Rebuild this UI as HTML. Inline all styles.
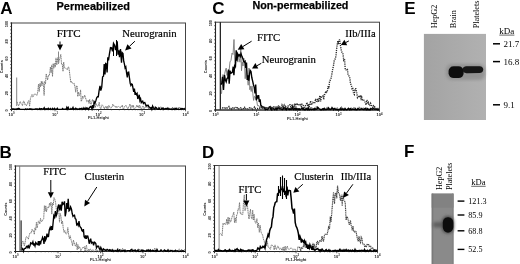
<!DOCTYPE html>
<html><head><meta charset="utf-8"><style>
html,body{margin:0;padding:0;background:#fff;width:520px;height:264px;overflow:hidden}
svg{display:block;will-change:transform;filter:blur(0.3px)}
text{font-family:"Liberation Sans", sans-serif}
</style></head><body>
<svg width="520" height="264" viewBox="0 0 520 264">
<rect x="11.5" y="23.0" width="174.0" height="86.5" fill="none" stroke="#444" stroke-width="1"/>
<line x1="10.0" y1="109.5" x2="185.5" y2="109.5" stroke="#222" stroke-width="1.1"/>
<line x1="11.5" y1="22.5" x2="11.5" y2="111.0" stroke="#222" stroke-width="1.1"/>
<line x1="10.2" y1="109.5" x2="11.5" y2="109.5" stroke="#333" stroke-width="0.8"/>
<line x1="10.2" y1="106.0" x2="11.5" y2="106.0" stroke="#333" stroke-width="0.8"/>
<line x1="10.2" y1="102.6" x2="11.5" y2="102.6" stroke="#333" stroke-width="0.8"/>
<line x1="10.2" y1="99.1" x2="11.5" y2="99.1" stroke="#333" stroke-width="0.8"/>
<line x1="10.2" y1="95.7" x2="11.5" y2="95.7" stroke="#333" stroke-width="0.8"/>
<line x1="10.2" y1="92.2" x2="11.5" y2="92.2" stroke="#333" stroke-width="0.8"/>
<line x1="10.2" y1="88.7" x2="11.5" y2="88.7" stroke="#333" stroke-width="0.8"/>
<line x1="10.2" y1="85.3" x2="11.5" y2="85.3" stroke="#333" stroke-width="0.8"/>
<line x1="10.2" y1="81.8" x2="11.5" y2="81.8" stroke="#333" stroke-width="0.8"/>
<line x1="10.2" y1="78.4" x2="11.5" y2="78.4" stroke="#333" stroke-width="0.8"/>
<line x1="10.2" y1="74.9" x2="11.5" y2="74.9" stroke="#333" stroke-width="0.8"/>
<line x1="10.2" y1="71.4" x2="11.5" y2="71.4" stroke="#333" stroke-width="0.8"/>
<line x1="10.2" y1="68.0" x2="11.5" y2="68.0" stroke="#333" stroke-width="0.8"/>
<line x1="10.2" y1="64.5" x2="11.5" y2="64.5" stroke="#333" stroke-width="0.8"/>
<line x1="10.2" y1="61.1" x2="11.5" y2="61.1" stroke="#333" stroke-width="0.8"/>
<line x1="10.2" y1="57.6" x2="11.5" y2="57.6" stroke="#333" stroke-width="0.8"/>
<line x1="10.2" y1="54.1" x2="11.5" y2="54.1" stroke="#333" stroke-width="0.8"/>
<line x1="10.2" y1="50.7" x2="11.5" y2="50.7" stroke="#333" stroke-width="0.8"/>
<line x1="10.2" y1="47.2" x2="11.5" y2="47.2" stroke="#333" stroke-width="0.8"/>
<line x1="10.2" y1="43.8" x2="11.5" y2="43.8" stroke="#333" stroke-width="0.8"/>
<line x1="10.2" y1="40.3" x2="11.5" y2="40.3" stroke="#333" stroke-width="0.8"/>
<line x1="10.2" y1="36.8" x2="11.5" y2="36.8" stroke="#333" stroke-width="0.8"/>
<line x1="10.2" y1="33.4" x2="11.5" y2="33.4" stroke="#333" stroke-width="0.8"/>
<line x1="10.2" y1="29.9" x2="11.5" y2="29.9" stroke="#333" stroke-width="0.8"/>
<line x1="10.2" y1="26.5" x2="11.5" y2="26.5" stroke="#333" stroke-width="0.8"/>
<line x1="10.2" y1="23.0" x2="11.5" y2="23.0" stroke="#333" stroke-width="0.8"/>
<text x="0" y="0" transform="translate(8.1 110.5) rotate(-90)" font-size="3.8" font-weight="bold" text-anchor="middle" fill="#222">0</text>
<text x="0" y="0" transform="translate(8.1 93.2) rotate(-90)" font-size="3.8" font-weight="bold" text-anchor="middle" fill="#222">20</text>
<text x="0" y="0" transform="translate(8.1 75.9) rotate(-90)" font-size="3.8" font-weight="bold" text-anchor="middle" fill="#222">40</text>
<text x="0" y="0" transform="translate(8.1 58.6) rotate(-90)" font-size="3.8" font-weight="bold" text-anchor="middle" fill="#222">60</text>
<text x="0" y="0" transform="translate(8.1 41.3) rotate(-90)" font-size="3.8" font-weight="bold" text-anchor="middle" fill="#222">80</text>
<text x="0" y="0" transform="translate(8.1 24.0) rotate(-90)" font-size="3.8" font-weight="bold" text-anchor="middle" fill="#222">100</text>
<line x1="11.5" y1="109.5" x2="11.5" y2="111.3" stroke="#333" stroke-width="0.8"/>
<line x1="24.6" y1="109.5" x2="24.6" y2="110.5" stroke="#555" stroke-width="0.5"/>
<line x1="32.3" y1="109.5" x2="32.3" y2="110.5" stroke="#555" stroke-width="0.5"/>
<line x1="37.7" y1="109.5" x2="37.7" y2="110.5" stroke="#555" stroke-width="0.5"/>
<line x1="41.9" y1="109.5" x2="41.9" y2="110.5" stroke="#555" stroke-width="0.5"/>
<line x1="45.3" y1="109.5" x2="45.3" y2="110.5" stroke="#555" stroke-width="0.5"/>
<line x1="48.3" y1="109.5" x2="48.3" y2="110.5" stroke="#555" stroke-width="0.5"/>
<line x1="50.8" y1="109.5" x2="50.8" y2="110.5" stroke="#555" stroke-width="0.5"/>
<line x1="53.0" y1="109.5" x2="53.0" y2="110.5" stroke="#555" stroke-width="0.5"/>
<text x="11.5" y="115.9" font-size="4" font-weight="bold" text-anchor="middle" fill="#222">10<tspan font-size="2.8" dy="-1.5">0</tspan></text>
<line x1="55.0" y1="109.5" x2="55.0" y2="111.3" stroke="#333" stroke-width="0.8"/>
<line x1="68.1" y1="109.5" x2="68.1" y2="110.5" stroke="#555" stroke-width="0.5"/>
<line x1="75.8" y1="109.5" x2="75.8" y2="110.5" stroke="#555" stroke-width="0.5"/>
<line x1="81.2" y1="109.5" x2="81.2" y2="110.5" stroke="#555" stroke-width="0.5"/>
<line x1="85.4" y1="109.5" x2="85.4" y2="110.5" stroke="#555" stroke-width="0.5"/>
<line x1="88.8" y1="109.5" x2="88.8" y2="110.5" stroke="#555" stroke-width="0.5"/>
<line x1="91.8" y1="109.5" x2="91.8" y2="110.5" stroke="#555" stroke-width="0.5"/>
<line x1="94.3" y1="109.5" x2="94.3" y2="110.5" stroke="#555" stroke-width="0.5"/>
<line x1="96.5" y1="109.5" x2="96.5" y2="110.5" stroke="#555" stroke-width="0.5"/>
<text x="55.0" y="115.9" font-size="4" font-weight="bold" text-anchor="middle" fill="#222">10<tspan font-size="2.8" dy="-1.5">1</tspan></text>
<line x1="98.5" y1="109.5" x2="98.5" y2="111.3" stroke="#333" stroke-width="0.8"/>
<line x1="111.6" y1="109.5" x2="111.6" y2="110.5" stroke="#555" stroke-width="0.5"/>
<line x1="119.3" y1="109.5" x2="119.3" y2="110.5" stroke="#555" stroke-width="0.5"/>
<line x1="124.7" y1="109.5" x2="124.7" y2="110.5" stroke="#555" stroke-width="0.5"/>
<line x1="128.9" y1="109.5" x2="128.9" y2="110.5" stroke="#555" stroke-width="0.5"/>
<line x1="132.3" y1="109.5" x2="132.3" y2="110.5" stroke="#555" stroke-width="0.5"/>
<line x1="135.3" y1="109.5" x2="135.3" y2="110.5" stroke="#555" stroke-width="0.5"/>
<line x1="137.8" y1="109.5" x2="137.8" y2="110.5" stroke="#555" stroke-width="0.5"/>
<line x1="140.0" y1="109.5" x2="140.0" y2="110.5" stroke="#555" stroke-width="0.5"/>
<text x="98.5" y="115.9" font-size="4" font-weight="bold" text-anchor="middle" fill="#222">10<tspan font-size="2.8" dy="-1.5">2</tspan></text>
<line x1="142.0" y1="109.5" x2="142.0" y2="111.3" stroke="#333" stroke-width="0.8"/>
<line x1="155.1" y1="109.5" x2="155.1" y2="110.5" stroke="#555" stroke-width="0.5"/>
<line x1="162.8" y1="109.5" x2="162.8" y2="110.5" stroke="#555" stroke-width="0.5"/>
<line x1="168.2" y1="109.5" x2="168.2" y2="110.5" stroke="#555" stroke-width="0.5"/>
<line x1="172.4" y1="109.5" x2="172.4" y2="110.5" stroke="#555" stroke-width="0.5"/>
<line x1="175.8" y1="109.5" x2="175.8" y2="110.5" stroke="#555" stroke-width="0.5"/>
<line x1="178.8" y1="109.5" x2="178.8" y2="110.5" stroke="#555" stroke-width="0.5"/>
<line x1="181.3" y1="109.5" x2="181.3" y2="110.5" stroke="#555" stroke-width="0.5"/>
<line x1="183.5" y1="109.5" x2="183.5" y2="110.5" stroke="#555" stroke-width="0.5"/>
<text x="142.0" y="115.9" font-size="4" font-weight="bold" text-anchor="middle" fill="#222">10<tspan font-size="2.8" dy="-1.5">3</tspan></text>
<line x1="185.5" y1="109.5" x2="185.5" y2="111.3" stroke="#333" stroke-width="0.8"/>
<text x="185.5" y="115.9" font-size="4" font-weight="bold" text-anchor="middle" fill="#222">10<tspan font-size="2.8" dy="-1.5">4</tspan></text>
<text x="98.5" y="119.4" font-size="4" font-weight="bold" text-anchor="middle" fill="#222">FL1-Height</text>
<text x="0" y="0" transform="translate(3.2 66.8) rotate(-90)" font-size="3.8" font-weight="bold" text-anchor="middle" fill="#222">Counts</text>
<line x1="16.7" y1="77.5" x2="16.7" y2="106.0" stroke="#777" stroke-width="0.9"/>
<path d="M17.0 101.8 L17.9 104.7 L18.7 105.8 L19.6 103.1 L20.3 101.5 L21.1 103.7 L21.8 104.6 L22.5 105.7 L23.3 101.3 L24.0 101.0 L24.8 104.6 L25.6 103.9 L26.4 105.7 L27.2 104.4 L28.0 101.8 L28.8 100.5 L29.6 106.3 L30.4 98.6 L31.2 96.4 L32.0 94.5 L32.7 97.0 L33.5 96.3 L34.2 94.1 L34.9 94.1 L35.7 94.3 L36.4 94.9 L37.1 95.3 L37.8 91.6 L38.5 84.1 L39.2 91.6 L39.9 83.4 L40.6 86.8 L41.3 81.2 L42.0 85.7 L42.7 81.7 L43.4 84.4 L44.1 95.4 L44.8 81.3 L45.5 83.8 L46.2 73.9 L46.9 77.1 L47.6 80.0 L48.3 75.4 L49.0 76.0 L49.7 73.5 L50.4 67.0 L51.1 72.8 L51.8 64.9 L52.5 76.5 L53.2 63.5 L53.9 68.2 L54.6 63.5 L55.3 67.1 L56.0 57.9 L56.8 64.9 L57.7 57.7 L58.5 63.8 L59.2 60.4 L60.0 57.8 L60.8 54.4 L61.5 64.0 L62.2 63.9 L63.0 71.3 L63.7 62.1 L64.4 67.7 L65.2 68.4 L65.9 68.2 L66.6 68.8 L67.3 69.7 L68.0 67.4 L68.7 66.9 L69.4 71.2 L70.1 77.0 L70.8 82.4 L71.5 81.4 L72.2 83.0 L72.9 83.2 L73.6 84.2 L74.3 83.5 L75.0 87.2 L75.7 92.2 L76.4 85.9 L77.1 86.1 L77.8 96.5 L78.5 92.1 L79.2 95.1 L79.9 95.4 L80.6 89.9 L81.2 101.4 L81.9 100.0 L82.6 96.0 L83.3 98.3 L84.0 97.2 L84.7 95.0 L85.4 97.6 L86.1 99.4 L86.8 101.8 L87.6 101.2 L88.3 100.1 L89.0 103.6 L89.7 99.3 L90.4 103.2 L91.1 104.4 L91.8 101.9 L92.5 99.4 L93.2 101.8 L93.9 104.4 L94.6 105.4 L95.3 107.6 L96.1 103.5 L96.9 105.3 L97.7 106.5 L98.4 105.4 L99.2 102.3 L100.0 107.2 L100.7 108.8 L101.4 107.5 L102.1 104.8 L102.9 105.6 L103.6 106.5 L104.3 108.8 L105.0 107.1 L105.7 106.4 L106.4 108.5 L107.1 106.2 L107.9 108.8 L108.6 105.5 L109.3 105.8 L110.0 107.5 L110.7 108.4 L111.4 107.4 L112.1 107.0 L112.8 104.2 L113.4 105.6 L114.1 105.8 L114.8 105.9 L115.5 107.4 L116.2 106.2 L116.9 107.7 L117.6 106.8 L118.3 106.3 L119.0 106.9 L119.7 107.3 L120.3 107.9 L121.0 106.2 L121.7 106.5 L122.4 105.1 L123.1 108.8 L123.8 108.7 L124.5 106.6 L125.2 106.3 L125.9 105.4 L126.6 107.1 L127.2 107.2 L127.9 108.8 L128.6 107.3 L129.3 106.0 L130.0 104.0 L130.7 108.7 L131.4 107.3 L132.1 105.2 L132.8 107.3 L133.4 105.3 L134.1 108.8 L134.8 108.5 L135.5 107.9 L136.2 107.1 L136.9 105.0 L137.6 107.2 L138.3 105.7 L139.0 108.1 L139.7 105.2 L140.3 106.6 L141.0 108.8 L141.7 108.8 L142.4 106.4 L143.1 106.1 L143.8 108.6 L144.5 108.5 L145.2 106.8 L145.9 107.1 L146.6 107.2 L147.2 106.8 L147.9 107.3 L148.6 108.8 L149.3 108.6 L150.0 108.8 L150.7 107.9 L151.4 107.9 L152.1 107.2 L152.7 107.9 L153.4 107.0 L154.1 106.6 L154.8 108.6 L155.5 108.8 L156.2 108.8 L156.9 108.8 L157.5 108.3 L158.2 107.6 L158.9 108.2 L159.6 107.8 L160.3 107.3 L161.0 106.9 L161.7 107.0 L162.4 108.2 L163.0 108.3 L163.7 107.8 L164.4 108.8 L165.1 108.3 L165.8 108.6 L166.5 108.8 L167.2 107.7 L167.8 106.9 L168.5 108.8 L169.2 107.8 L169.9 108.8 L170.6 108.5 L171.3 108.8 L172.0 108.8 L172.6 107.0 L173.3 108.8 L174.0 107.9 L174.7 107.9 L175.4 108.1 L176.1 108.8 L176.8 108.8 L177.5 108.8 L178.1 107.5 L178.8 108.1 L179.5 107.1 L180.2 108.4 L180.9 108.8 L181.6 108.1 L182.3 108.6 L182.9 108.6 L183.6 108.8 L184.3 108.1 L185.0 108.2" fill="none" stroke="#777" stroke-width="1.0" stroke-dasharray="1.3 0.5"/>
<path d="M12.0 108.5 L12.7 109.2 L13.4 109.0 L14.1 108.9 L14.7 109.4 L15.4 109.1 L16.1 109.0 L16.8 109.4 L17.5 108.9 L18.2 108.5 L18.9 108.5 L19.5 108.8 L20.2 109.4 L20.9 109.4 L21.6 109.4 L22.3 109.4 L23.0 109.4 L23.7 109.4 L24.3 109.4 L25.0 109.4 L25.7 108.8 L26.4 109.4 L27.1 109.1 L27.8 109.0 L28.5 109.4 L29.1 109.4 L29.8 108.8 L30.5 109.0 L31.2 109.4 L31.9 109.0 L32.6 109.4 L33.3 109.4 L33.9 109.3 L34.6 109.4 L35.3 108.8 L36.0 108.8 L36.7 109.0 L37.4 108.9 L38.1 109.4 L38.7 109.4 L39.4 108.6 L40.1 109.4 L40.8 108.6 L41.5 108.7 L42.2 108.9 L42.9 109.1 L43.5 108.8 L44.2 107.7 L44.9 109.4 L45.6 108.9 L46.3 108.7 L47.0 109.4 L47.7 108.7 L48.3 108.3 L49.0 109.3 L49.7 109.3 L50.4 108.6 L51.1 109.4 L51.8 109.3 L52.5 108.4 L53.1 109.4 L53.8 109.2 L54.5 108.4 L55.2 109.3 L55.9 109.1 L56.6 109.4 L57.3 108.3 L57.9 109.4 L58.6 109.4 L59.3 109.4 L60.0 109.4 L60.7 109.4 L61.4 109.4 L62.1 109.1 L62.7 108.5 L63.4 109.4 L64.1 109.4 L64.8 109.2 L65.5 109.1 L66.2 109.4 L66.8 107.4 L67.5 109.1 L68.2 107.4 L68.9 109.1 L69.6 109.4 L70.3 109.4 L70.9 108.6 L71.6 109.2 L72.3 108.8 L73.0 107.4 L73.7 109.4 L74.4 108.9 L75.1 108.9 L75.7 108.2 L76.4 108.8 L77.1 108.9 L77.8 109.4 L78.5 109.0 L79.2 109.4 L79.8 108.5 L80.5 108.6 L81.2 108.8 L81.9 108.2 L82.6 109.4 L83.3 109.2 L83.9 107.8 L84.6 108.8 L85.3 109.4 L86.0 107.7 L86.8 108.6 L87.6 108.1 L88.4 109.4 L89.2 108.2 L90.0 107.1 L91.0 106.4 L92.0 108.9 L92.8 105.1 L93.5 108.3 L94.2 101.8 L95.0 103.1 L95.8 100.9 L96.7 97.8 L97.5 96.7 L98.3 96.7 L99.1 90.7 L100.0 85.8 L100.8 90.6 L101.7 87.4 L102.6 76.8 L103.5 76.2 L104.2 64.0 L105.0 74.4 L105.7 63.6 L106.4 64.1 L107.1 72.4 L107.8 57.3 L108.5 60.3 L109.5 53.4 L110.5 47.6 L111.5 47.8 L112.5 51.4 L113.5 43.3 L114.5 45.1 L115.5 50.2 L116.4 45.5 L117.2 41.4 L118.0 54.7 L118.8 50.2 L119.5 57.2 L120.5 49.0 L121.5 62.6 L122.2 52.6 L123.0 53.5 L123.7 61.2 L124.4 63.8 L125.1 68.0 L125.8 66.9 L126.6 73.1 L127.3 77.4 L128.0 72.4 L128.7 72.2 L129.4 77.5 L130.2 83.4 L130.9 85.4 L131.6 84.0 L132.3 84.4 L133.0 88.2 L133.7 91.9 L134.4 88.6 L135.1 94.8 L135.7 93.2 L136.4 94.5 L137.1 93.4 L137.8 99.0 L138.5 97.2 L139.2 94.8 L139.9 100.5 L140.6 98.8 L141.3 102.6 L142.0 101.7 L142.7 101.1 L143.4 103.4 L144.1 102.7 L144.8 102.6 L145.5 104.4 L146.2 106.0 L146.8 105.3 L147.5 105.5 L148.2 105.3 L148.9 107.1 L149.6 107.2 L150.3 108.1 L151.1 107.7 L151.8 109.4 L152.6 106.1 L153.3 107.8 L154.0 108.6 L154.8 109.1 L155.5 107.3 L156.3 107.8 L157.0 108.9 L157.7 109.4 L158.4 109.4 L159.0 108.0 L159.7 109.0 L160.4 109.4 L161.1 109.0 L161.8 108.3 L162.5 108.5 L163.1 108.2 L163.8 109.4 L164.5 108.8 L165.2 108.7 L165.9 108.5 L166.6 108.9 L167.2 108.5 L167.9 108.4 L168.6 109.0 L169.3 108.9 L170.0 109.3 L170.7 109.1 L171.3 109.4 L172.0 109.0 L172.7 109.2 L173.4 109.2 L174.1 108.6 L174.8 109.4 L175.4 108.8 L176.1 108.2 L176.8 109.4 L177.5 109.4 L178.2 108.8 L178.9 109.4 L179.5 109.4 L180.2 109.4 L180.9 108.5 L181.6 109.2 L182.3 108.6 L183.0 108.8 L183.6 108.9 L184.3 108.7 L185.0 109.3" fill="none" stroke="#000" stroke-width="1.35"/>
<line x1="116.5" y1="40.0" x2="116.5" y2="56.0" stroke="#000" stroke-width="1.0"/>
<line x1="113.5" y1="44.5" x2="113.5" y2="56.0" stroke="#000" stroke-width="1.0"/>
<line x1="58.5" y1="51.5" x2="58.5" y2="62" stroke="#888" stroke-width="1.0"/>
<text x="56.7" y="36.6" style='font-family:"Liberation Serif", serif;font-size:11.00px;font-weight:normal' text-anchor="start" fill="#000" stroke="#000" stroke-width="0.2">FITC</text>
<line x1="60.0" y1="41.5" x2="60.0" y2="44.6" stroke="#000" stroke-width="1.0"/><polygon points="60.0,50.6 57.0,44.6 63.0,44.6" fill="#000"/>
<text x="122.3" y="36.5" style='font-family:"Liberation Serif", serif;font-size:10.75px;font-weight:normal' text-anchor="start" fill="#000" stroke="#000" stroke-width="0.2">Neurogranin</text>
<line x1="134.9" y1="41.2" x2="129.4" y2="46.4" stroke="#000" stroke-width="1.0"/><polygon points="125.1,50.6 127.4,44.3 131.5,48.6" fill="#000"/>
<text x="0.3" y="13.5" style='font-family:"Liberation Sans", sans-serif;font-size:17.00px;font-weight:bold' text-anchor="start" fill="#000" >A</text>
<text x="56.6" y="9.8" style='font-family:"Liberation Sans", sans-serif;font-size:10.90px;font-weight:bold' text-anchor="start" fill="#000" stroke="#000" stroke-width="0.25">Permeabilized</text>
<rect x="15.5" y="166.0" width="170.0" height="85.5" fill="none" stroke="#444" stroke-width="1"/>
<line x1="14.0" y1="251.5" x2="185.5" y2="251.5" stroke="#222" stroke-width="1.1"/>
<line x1="15.5" y1="165.5" x2="15.5" y2="253.0" stroke="#222" stroke-width="1.1"/>
<line x1="14.2" y1="251.5" x2="15.5" y2="251.5" stroke="#333" stroke-width="0.8"/>
<line x1="14.2" y1="248.1" x2="15.5" y2="248.1" stroke="#333" stroke-width="0.8"/>
<line x1="14.2" y1="244.7" x2="15.5" y2="244.7" stroke="#333" stroke-width="0.8"/>
<line x1="14.2" y1="241.2" x2="15.5" y2="241.2" stroke="#333" stroke-width="0.8"/>
<line x1="14.2" y1="237.8" x2="15.5" y2="237.8" stroke="#333" stroke-width="0.8"/>
<line x1="14.2" y1="234.4" x2="15.5" y2="234.4" stroke="#333" stroke-width="0.8"/>
<line x1="14.2" y1="231.0" x2="15.5" y2="231.0" stroke="#333" stroke-width="0.8"/>
<line x1="14.2" y1="227.6" x2="15.5" y2="227.6" stroke="#333" stroke-width="0.8"/>
<line x1="14.2" y1="224.1" x2="15.5" y2="224.1" stroke="#333" stroke-width="0.8"/>
<line x1="14.2" y1="220.7" x2="15.5" y2="220.7" stroke="#333" stroke-width="0.8"/>
<line x1="14.2" y1="217.3" x2="15.5" y2="217.3" stroke="#333" stroke-width="0.8"/>
<line x1="14.2" y1="213.9" x2="15.5" y2="213.9" stroke="#333" stroke-width="0.8"/>
<line x1="14.2" y1="210.5" x2="15.5" y2="210.5" stroke="#333" stroke-width="0.8"/>
<line x1="14.2" y1="207.0" x2="15.5" y2="207.0" stroke="#333" stroke-width="0.8"/>
<line x1="14.2" y1="203.6" x2="15.5" y2="203.6" stroke="#333" stroke-width="0.8"/>
<line x1="14.2" y1="200.2" x2="15.5" y2="200.2" stroke="#333" stroke-width="0.8"/>
<line x1="14.2" y1="196.8" x2="15.5" y2="196.8" stroke="#333" stroke-width="0.8"/>
<line x1="14.2" y1="193.4" x2="15.5" y2="193.4" stroke="#333" stroke-width="0.8"/>
<line x1="14.2" y1="189.9" x2="15.5" y2="189.9" stroke="#333" stroke-width="0.8"/>
<line x1="14.2" y1="186.5" x2="15.5" y2="186.5" stroke="#333" stroke-width="0.8"/>
<line x1="14.2" y1="183.1" x2="15.5" y2="183.1" stroke="#333" stroke-width="0.8"/>
<line x1="14.2" y1="179.7" x2="15.5" y2="179.7" stroke="#333" stroke-width="0.8"/>
<line x1="14.2" y1="176.3" x2="15.5" y2="176.3" stroke="#333" stroke-width="0.8"/>
<line x1="14.2" y1="172.8" x2="15.5" y2="172.8" stroke="#333" stroke-width="0.8"/>
<line x1="14.2" y1="169.4" x2="15.5" y2="169.4" stroke="#333" stroke-width="0.8"/>
<line x1="14.2" y1="166.0" x2="15.5" y2="166.0" stroke="#333" stroke-width="0.8"/>
<text x="0" y="0" transform="translate(12.1 252.5) rotate(-90)" font-size="3.8" font-weight="bold" text-anchor="middle" fill="#222">0</text>
<text x="0" y="0" transform="translate(12.1 235.4) rotate(-90)" font-size="3.8" font-weight="bold" text-anchor="middle" fill="#222">20</text>
<text x="0" y="0" transform="translate(12.1 218.3) rotate(-90)" font-size="3.8" font-weight="bold" text-anchor="middle" fill="#222">40</text>
<text x="0" y="0" transform="translate(12.1 201.2) rotate(-90)" font-size="3.8" font-weight="bold" text-anchor="middle" fill="#222">60</text>
<text x="0" y="0" transform="translate(12.1 184.1) rotate(-90)" font-size="3.8" font-weight="bold" text-anchor="middle" fill="#222">80</text>
<text x="0" y="0" transform="translate(12.1 167.0) rotate(-90)" font-size="3.8" font-weight="bold" text-anchor="middle" fill="#222">100</text>
<line x1="15.5" y1="251.5" x2="15.5" y2="253.3" stroke="#333" stroke-width="0.8"/>
<line x1="28.3" y1="251.5" x2="28.3" y2="252.5" stroke="#555" stroke-width="0.5"/>
<line x1="35.8" y1="251.5" x2="35.8" y2="252.5" stroke="#555" stroke-width="0.5"/>
<line x1="41.1" y1="251.5" x2="41.1" y2="252.5" stroke="#555" stroke-width="0.5"/>
<line x1="45.2" y1="251.5" x2="45.2" y2="252.5" stroke="#555" stroke-width="0.5"/>
<line x1="48.6" y1="251.5" x2="48.6" y2="252.5" stroke="#555" stroke-width="0.5"/>
<line x1="51.4" y1="251.5" x2="51.4" y2="252.5" stroke="#555" stroke-width="0.5"/>
<line x1="53.9" y1="251.5" x2="53.9" y2="252.5" stroke="#555" stroke-width="0.5"/>
<line x1="56.1" y1="251.5" x2="56.1" y2="252.5" stroke="#555" stroke-width="0.5"/>
<text x="15.5" y="257.9" font-size="4" font-weight="bold" text-anchor="middle" fill="#222">10<tspan font-size="2.8" dy="-1.5">0</tspan></text>
<line x1="58.0" y1="251.5" x2="58.0" y2="253.3" stroke="#333" stroke-width="0.8"/>
<line x1="70.8" y1="251.5" x2="70.8" y2="252.5" stroke="#555" stroke-width="0.5"/>
<line x1="78.3" y1="251.5" x2="78.3" y2="252.5" stroke="#555" stroke-width="0.5"/>
<line x1="83.6" y1="251.5" x2="83.6" y2="252.5" stroke="#555" stroke-width="0.5"/>
<line x1="87.7" y1="251.5" x2="87.7" y2="252.5" stroke="#555" stroke-width="0.5"/>
<line x1="91.1" y1="251.5" x2="91.1" y2="252.5" stroke="#555" stroke-width="0.5"/>
<line x1="93.9" y1="251.5" x2="93.9" y2="252.5" stroke="#555" stroke-width="0.5"/>
<line x1="96.4" y1="251.5" x2="96.4" y2="252.5" stroke="#555" stroke-width="0.5"/>
<line x1="98.6" y1="251.5" x2="98.6" y2="252.5" stroke="#555" stroke-width="0.5"/>
<text x="58.0" y="257.9" font-size="4" font-weight="bold" text-anchor="middle" fill="#222">10<tspan font-size="2.8" dy="-1.5">1</tspan></text>
<line x1="100.5" y1="251.5" x2="100.5" y2="253.3" stroke="#333" stroke-width="0.8"/>
<line x1="113.3" y1="251.5" x2="113.3" y2="252.5" stroke="#555" stroke-width="0.5"/>
<line x1="120.8" y1="251.5" x2="120.8" y2="252.5" stroke="#555" stroke-width="0.5"/>
<line x1="126.1" y1="251.5" x2="126.1" y2="252.5" stroke="#555" stroke-width="0.5"/>
<line x1="130.2" y1="251.5" x2="130.2" y2="252.5" stroke="#555" stroke-width="0.5"/>
<line x1="133.6" y1="251.5" x2="133.6" y2="252.5" stroke="#555" stroke-width="0.5"/>
<line x1="136.4" y1="251.5" x2="136.4" y2="252.5" stroke="#555" stroke-width="0.5"/>
<line x1="138.9" y1="251.5" x2="138.9" y2="252.5" stroke="#555" stroke-width="0.5"/>
<line x1="141.1" y1="251.5" x2="141.1" y2="252.5" stroke="#555" stroke-width="0.5"/>
<text x="100.5" y="257.9" font-size="4" font-weight="bold" text-anchor="middle" fill="#222">10<tspan font-size="2.8" dy="-1.5">2</tspan></text>
<line x1="143.0" y1="251.5" x2="143.0" y2="253.3" stroke="#333" stroke-width="0.8"/>
<line x1="155.8" y1="251.5" x2="155.8" y2="252.5" stroke="#555" stroke-width="0.5"/>
<line x1="163.3" y1="251.5" x2="163.3" y2="252.5" stroke="#555" stroke-width="0.5"/>
<line x1="168.6" y1="251.5" x2="168.6" y2="252.5" stroke="#555" stroke-width="0.5"/>
<line x1="172.7" y1="251.5" x2="172.7" y2="252.5" stroke="#555" stroke-width="0.5"/>
<line x1="176.1" y1="251.5" x2="176.1" y2="252.5" stroke="#555" stroke-width="0.5"/>
<line x1="178.9" y1="251.5" x2="178.9" y2="252.5" stroke="#555" stroke-width="0.5"/>
<line x1="181.4" y1="251.5" x2="181.4" y2="252.5" stroke="#555" stroke-width="0.5"/>
<line x1="183.6" y1="251.5" x2="183.6" y2="252.5" stroke="#555" stroke-width="0.5"/>
<text x="143.0" y="257.9" font-size="4" font-weight="bold" text-anchor="middle" fill="#222">10<tspan font-size="2.8" dy="-1.5">3</tspan></text>
<line x1="185.5" y1="251.5" x2="185.5" y2="253.3" stroke="#333" stroke-width="0.8"/>
<text x="185.5" y="257.9" font-size="4" font-weight="bold" text-anchor="middle" fill="#222">10<tspan font-size="2.8" dy="-1.5">4</tspan></text>
<text x="100.5" y="261.4" font-size="4" font-weight="bold" text-anchor="middle" fill="#222">FL1-Height</text>
<text x="0" y="0" transform="translate(7.2 209.3) rotate(-90)" font-size="3.8" font-weight="bold" text-anchor="middle" fill="#222">Counts</text>
<line x1="19.7" y1="166.0" x2="19.7" y2="251.0" stroke="#777" stroke-width="0.9"/>
<path d="M20.5 249.5 L21.2 248.8 L22.0 242.2 L22.8 241.1 L23.6 243.3 L24.4 246.0 L25.2 241.9 L26.0 237.0 L26.8 236.8 L27.6 237.5 L28.4 239.2 L29.2 235.3 L30.0 233.0 L30.7 232.5 L31.4 232.9 L32.1 229.2 L32.9 230.7 L33.6 230.7 L34.3 234.3 L35.0 227.9 L35.7 230.3 L36.4 222.4 L37.1 227.9 L37.8 224.4 L38.4 220.9 L39.1 221.7 L39.8 224.0 L40.5 218.4 L41.3 221.4 L42.2 221.3 L43.0 219.6 L43.7 218.6 L44.4 205.7 L45.1 211.2 L45.8 205.8 L46.5 211.8 L47.3 207.3 L48.0 207.1 L48.8 207.9 L49.5 203.1 L50.2 205.8 L51.0 202.1 L51.8 214.1 L52.5 203.2 L53.2 205.2 L54.0 197.6 L54.8 199.3 L55.6 202.6 L56.4 210.0 L57.2 211.6 L58.0 211.3 L58.7 210.0 L59.5 222.2 L60.2 213.4 L61.0 216.5 L61.7 223.9 L62.5 221.0 L63.2 227.7 L64.0 232.3 L64.8 230.5 L65.5 233.6 L66.2 234.0 L67.0 233.5 L67.8 227.6 L68.6 234.4 L69.4 238.8 L70.2 235.7 L71.0 239.7 L71.8 242.3 L72.6 245.8 L73.4 240.1 L74.2 242.8 L75.0 245.3 L75.7 246.3 L76.5 242.5 L77.2 249.8 L77.9 244.5 L78.6 248.8 L79.4 246.6 L80.1 248.1 L80.8 250.8 L81.5 249.3 L82.3 248.6 L83.0 247.0 L83.7 247.8 L84.4 246.6 L85.1 251.3 L85.8 246.7 L86.5 245.2 L87.2 251.3 L87.9 251.3 L88.6 249.2 L89.3 251.2 L90.0 248.8 L90.7 249.3 L91.4 250.9 L92.1 250.8 L92.9 249.6 L93.6 251.3 L94.3 251.3 L95.0 250.6 L95.7 248.9 L96.4 250.7 L97.1 250.2 L97.9 250.6 L98.6 251.3 L99.3 250.1 L100.0 251.2 L100.7 251.3 L101.4 251.3 L102.1 251.3 L102.7 248.7 L103.4 250.8 L104.1 249.4 L104.8 250.8 L105.5 251.3 L106.2 248.9 L106.9 250.5 L107.5 251.3 L108.2 251.0 L108.9 251.3 L109.6 249.0 L110.3 251.3 L111.0 249.7 L111.7 249.4 L112.3 251.3 L113.0 251.3 L113.7 250.0 L114.4 249.9 L115.1 250.6 L115.8 250.9 L116.5 250.7 L117.1 249.7 L117.8 248.1 L118.5 251.3 L119.2 251.1 L119.9 249.4 L120.6 249.0 L121.2 250.1 L121.9 250.4 L122.6 248.4 L123.3 251.3 L124.0 251.3 L124.7 250.5 L125.4 251.3 L126.0 251.2 L126.7 251.3 L127.4 251.1 L128.1 251.3 L128.8 251.3 L129.5 250.5 L130.2 250.4 L130.8 249.9 L131.5 250.6 L132.2 250.0 L132.9 250.9 L133.6 251.3 L134.3 251.3 L135.0 249.6 L135.6 251.3 L136.3 250.5 L137.0 250.8 L137.7 250.3 L138.4 248.6 L139.1 251.2 L139.8 248.9 L140.4 251.3 L141.1 251.0 L141.8 251.3 L142.5 251.3 L143.2 251.3 L143.9 251.3 L144.6 250.9 L145.2 251.3 L145.9 250.8 L146.6 251.2 L147.3 250.2 L148.0 251.3 L148.7 251.3 L149.4 250.4 L150.0 249.5 L150.7 250.9 L151.4 251.3 L152.1 250.8 L152.8 249.8 L153.5 250.1 L154.2 250.6 L154.8 248.0 L155.5 250.3 L156.2 251.3 L156.9 249.5 L157.6 250.7 L158.3 251.3 L159.0 251.3 L159.6 251.3 L160.3 250.8 L161.0 249.5 L161.7 251.3 L162.4 251.3 L163.1 251.2 L163.8 251.3 L164.4 251.3 L165.1 251.0 L165.8 249.8 L166.5 250.8 L167.2 250.8 L167.9 250.2 L168.5 250.0 L169.2 249.9 L169.9 250.8 L170.6 250.3 L171.3 251.3 L172.0 251.3 L172.7 251.3 L173.3 251.0 L174.0 251.3 L174.7 251.3 L175.4 249.4 L176.1 250.2 L176.8 251.2 L177.5 250.1 L178.1 251.3 L178.8 249.1 L179.5 249.0 L180.2 251.3 L180.9 251.3 L181.6 249.3 L182.3 251.1 L182.9 251.3 L183.6 249.9 L184.3 249.8 L185.0 249.8" fill="none" stroke="#777" stroke-width="1.0" stroke-dasharray="1.3 0.5"/>
<line x1="21.1" y1="220.4" x2="21.1" y2="251.0" stroke="#000" stroke-width="1.0"/>
<path d="M21.8 249.6 L22.6 248.6 L23.4 251.3 L24.2 248.9 L25.0 248.3 L25.7 248.3 L26.4 246.7 L27.1 246.1 L27.9 247.6 L28.6 245.9 L29.3 247.5 L30.0 245.7 L30.7 242.9 L31.4 243.4 L32.1 243.9 L32.9 241.8 L33.6 244.8 L34.3 244.2 L35.0 246.1 L35.7 242.6 L36.4 243.5 L37.1 244.6 L37.8 244.6 L38.4 241.0 L39.1 245.6 L39.8 241.1 L40.5 244.4 L41.2 240.7 L41.9 239.7 L42.6 237.2 L43.3 238.9 L44.0 243.9 L44.8 236.0 L45.5 240.3 L46.2 238.9 L47.0 233.6 L47.8 236.6 L48.5 236.4 L49.3 230.0 L50.2 227.4 L51.0 230.3 L51.7 226.2 L52.4 230.0 L53.1 222.8 L53.8 215.6 L54.6 217.2 L55.4 211.1 L56.2 215.9 L57.0 213.7 L57.8 207.3 L58.7 204.5 L59.5 210.5 L60.4 204.5 L61.3 210.7 L62.1 201.8 L63.0 204.4 L63.8 203.4 L64.5 201.4 L65.2 216.3 L66.0 212.2 L66.7 203.1 L67.5 208.9 L68.2 198.7 L69.0 210.9 L69.7 210.3 L70.6 206.9 L71.5 209.2 L72.2 213.5 L73.0 216.4 L73.7 215.6 L74.5 215.2 L75.2 218.6 L76.0 219.3 L76.7 224.6 L77.5 223.7 L78.2 225.4 L79.0 221.0 L79.7 226.1 L80.5 227.3 L81.2 228.1 L81.9 230.5 L82.7 231.2 L83.4 229.1 L84.1 236.8 L84.9 237.8 L85.6 235.5 L86.3 238.9 L87.1 236.0 L87.8 236.1 L88.5 239.2 L89.2 243.7 L90.0 240.9 L90.7 238.7 L91.4 243.0 L92.1 242.2 L92.9 242.7 L93.6 245.4 L94.3 242.1 L95.0 242.5 L95.8 243.5 L96.5 247.9 L97.2 246.7 L97.9 246.0 L98.6 246.3 L99.3 248.6 L100.1 249.7 L100.8 247.5 L101.5 249.1 L102.2 251.3 L102.9 249.8 L103.6 248.9 L104.3 249.8 L105.0 249.7 L105.8 250.4 L106.5 250.2 L107.2 249.5 L107.9 250.1 L108.6 250.7 L109.3 249.9 L110.0 250.7 L110.7 250.0 L111.4 251.3 L112.0 251.3 L112.7 250.0 L113.4 251.3 L114.1 250.8 L114.8 250.7 L115.5 250.5 L116.1 250.9 L116.8 251.3 L117.5 249.8 L118.2 251.3 L118.9 250.5 L119.5 249.9 L120.2 250.7 L120.9 251.2 L121.6 250.7 L122.3 250.9 L123.0 250.5 L123.6 250.3 L124.3 251.3 L125.0 250.1 L125.7 251.3 L126.4 251.0 L127.0 250.6 L127.7 250.6 L128.4 250.6 L129.1 250.7 L129.8 250.7 L130.5 250.7 L131.1 249.5 L131.8 249.3 L132.5 251.0 L133.2 250.4 L133.9 250.4 L134.5 250.7 L135.2 250.1 L135.9 251.3 L136.6 250.8 L137.3 250.7 L138.0 250.1 L138.6 251.3 L139.3 251.3 L140.0 251.3 L140.7 251.3 L141.4 250.3 L142.0 250.0 L142.7 251.3 L143.4 250.4 L144.1 250.8 L144.8 250.8 L145.5 251.2 L146.1 251.2 L146.8 250.2 L147.5 250.5 L148.2 249.8 L148.9 251.2 L149.5 250.8 L150.2 249.9 L150.9 251.3 L151.6 250.9 L152.3 250.3 L153.0 250.7 L153.6 250.6 L154.3 251.0 L155.0 251.1 L155.7 250.6 L156.4 251.2 L157.0 249.5 L157.7 250.8 L158.4 251.3 L159.1 251.3 L159.8 251.3 L160.5 250.4 L161.1 250.1 L161.8 250.8 L162.5 251.3 L163.2 251.1 L163.9 250.6 L164.5 250.1 L165.2 251.1 L165.9 250.8 L166.6 251.2 L167.3 251.1 L168.0 249.9 L168.6 251.0 L169.3 251.3 L170.0 250.8 L170.7 250.5 L171.4 250.6 L172.0 250.5 L172.7 251.3 L173.4 251.3 L174.1 250.8 L174.8 251.3 L175.5 250.6 L176.1 250.8 L176.8 250.8 L177.5 251.0 L178.2 251.3 L178.9 251.3 L179.5 251.3 L180.2 251.0 L180.9 251.2 L181.6 251.0 L182.3 251.3 L183.0 250.7 L183.6 251.2 L184.3 251.3 L185.0 251.3" fill="none" stroke="#000" stroke-width="1.35"/>
<text x="43.2" y="175.0" style='font-family:"Liberation Serif", serif;font-size:10.50px;font-weight:normal' text-anchor="start" fill="#000" stroke="#000" stroke-width="0.2">FITC</text>
<line x1="50.8" y1="180.0" x2="50.8" y2="192.3" stroke="#000" stroke-width="1.0"/><polygon points="50.8,198.3 47.8,192.3 53.8,192.3" fill="#000"/>
<text x="84.6" y="179.6" style='font-family:"Liberation Serif", serif;font-size:10.80px;font-weight:normal' text-anchor="start" fill="#000" stroke="#000" stroke-width="0.2">Clusterin</text>
<line x1="96.8" y1="187.0" x2="87.5" y2="201.4" stroke="#000" stroke-width="1.0"/><polygon points="84.3,206.4 85.0,199.7 90.1,203.0" fill="#000"/>
<text x="-0.5" y="158.2" style='font-family:"Liberation Sans", sans-serif;font-size:17.00px;font-weight:bold' text-anchor="start" fill="#000" >B</text>
<rect x="215.5" y="22.2" width="164.0" height="87.8" fill="none" stroke="#444" stroke-width="1"/>
<line x1="214.0" y1="110.0" x2="379.5" y2="110.0" stroke="#222" stroke-width="1.1"/>
<line x1="215.5" y1="21.7" x2="215.5" y2="111.5" stroke="#222" stroke-width="1.1"/>
<line x1="214.2" y1="110.0" x2="215.5" y2="110.0" stroke="#333" stroke-width="0.8"/>
<line x1="214.2" y1="106.5" x2="215.5" y2="106.5" stroke="#333" stroke-width="0.8"/>
<line x1="214.2" y1="103.0" x2="215.5" y2="103.0" stroke="#333" stroke-width="0.8"/>
<line x1="214.2" y1="99.5" x2="215.5" y2="99.5" stroke="#333" stroke-width="0.8"/>
<line x1="214.2" y1="96.0" x2="215.5" y2="96.0" stroke="#333" stroke-width="0.8"/>
<line x1="214.2" y1="92.4" x2="215.5" y2="92.4" stroke="#333" stroke-width="0.8"/>
<line x1="214.2" y1="88.9" x2="215.5" y2="88.9" stroke="#333" stroke-width="0.8"/>
<line x1="214.2" y1="85.4" x2="215.5" y2="85.4" stroke="#333" stroke-width="0.8"/>
<line x1="214.2" y1="81.9" x2="215.5" y2="81.9" stroke="#333" stroke-width="0.8"/>
<line x1="214.2" y1="78.4" x2="215.5" y2="78.4" stroke="#333" stroke-width="0.8"/>
<line x1="214.2" y1="74.9" x2="215.5" y2="74.9" stroke="#333" stroke-width="0.8"/>
<line x1="214.2" y1="71.4" x2="215.5" y2="71.4" stroke="#333" stroke-width="0.8"/>
<line x1="214.2" y1="67.9" x2="215.5" y2="67.9" stroke="#333" stroke-width="0.8"/>
<line x1="214.2" y1="64.3" x2="215.5" y2="64.3" stroke="#333" stroke-width="0.8"/>
<line x1="214.2" y1="60.8" x2="215.5" y2="60.8" stroke="#333" stroke-width="0.8"/>
<line x1="214.2" y1="57.3" x2="215.5" y2="57.3" stroke="#333" stroke-width="0.8"/>
<line x1="214.2" y1="53.8" x2="215.5" y2="53.8" stroke="#333" stroke-width="0.8"/>
<line x1="214.2" y1="50.3" x2="215.5" y2="50.3" stroke="#333" stroke-width="0.8"/>
<line x1="214.2" y1="46.8" x2="215.5" y2="46.8" stroke="#333" stroke-width="0.8"/>
<line x1="214.2" y1="43.3" x2="215.5" y2="43.3" stroke="#333" stroke-width="0.8"/>
<line x1="214.2" y1="39.8" x2="215.5" y2="39.8" stroke="#333" stroke-width="0.8"/>
<line x1="214.2" y1="36.2" x2="215.5" y2="36.2" stroke="#333" stroke-width="0.8"/>
<line x1="214.2" y1="32.7" x2="215.5" y2="32.7" stroke="#333" stroke-width="0.8"/>
<line x1="214.2" y1="29.2" x2="215.5" y2="29.2" stroke="#333" stroke-width="0.8"/>
<line x1="214.2" y1="25.7" x2="215.5" y2="25.7" stroke="#333" stroke-width="0.8"/>
<line x1="214.2" y1="22.2" x2="215.5" y2="22.2" stroke="#333" stroke-width="0.8"/>
<text x="0" y="0" transform="translate(212.1 111.0) rotate(-90)" font-size="3.8" font-weight="bold" text-anchor="middle" fill="#222">0</text>
<text x="0" y="0" transform="translate(212.1 93.4) rotate(-90)" font-size="3.8" font-weight="bold" text-anchor="middle" fill="#222">20</text>
<text x="0" y="0" transform="translate(212.1 75.9) rotate(-90)" font-size="3.8" font-weight="bold" text-anchor="middle" fill="#222">40</text>
<text x="0" y="0" transform="translate(212.1 58.3) rotate(-90)" font-size="3.8" font-weight="bold" text-anchor="middle" fill="#222">60</text>
<text x="0" y="0" transform="translate(212.1 40.8) rotate(-90)" font-size="3.8" font-weight="bold" text-anchor="middle" fill="#222">80</text>
<text x="0" y="0" transform="translate(212.1 23.2) rotate(-90)" font-size="3.8" font-weight="bold" text-anchor="middle" fill="#222">100</text>
<line x1="215.5" y1="110.0" x2="215.5" y2="111.8" stroke="#333" stroke-width="0.8"/>
<line x1="227.8" y1="110.0" x2="227.8" y2="111.0" stroke="#555" stroke-width="0.5"/>
<line x1="235.1" y1="110.0" x2="235.1" y2="111.0" stroke="#555" stroke-width="0.5"/>
<line x1="240.2" y1="110.0" x2="240.2" y2="111.0" stroke="#555" stroke-width="0.5"/>
<line x1="244.2" y1="110.0" x2="244.2" y2="111.0" stroke="#555" stroke-width="0.5"/>
<line x1="247.4" y1="110.0" x2="247.4" y2="111.0" stroke="#555" stroke-width="0.5"/>
<line x1="250.1" y1="110.0" x2="250.1" y2="111.0" stroke="#555" stroke-width="0.5"/>
<line x1="252.5" y1="110.0" x2="252.5" y2="111.0" stroke="#555" stroke-width="0.5"/>
<line x1="254.6" y1="110.0" x2="254.6" y2="111.0" stroke="#555" stroke-width="0.5"/>
<text x="215.5" y="116.4" font-size="4" font-weight="bold" text-anchor="middle" fill="#222">10<tspan font-size="2.8" dy="-1.5">0</tspan></text>
<line x1="256.5" y1="110.0" x2="256.5" y2="111.8" stroke="#333" stroke-width="0.8"/>
<line x1="268.8" y1="110.0" x2="268.8" y2="111.0" stroke="#555" stroke-width="0.5"/>
<line x1="276.1" y1="110.0" x2="276.1" y2="111.0" stroke="#555" stroke-width="0.5"/>
<line x1="281.2" y1="110.0" x2="281.2" y2="111.0" stroke="#555" stroke-width="0.5"/>
<line x1="285.2" y1="110.0" x2="285.2" y2="111.0" stroke="#555" stroke-width="0.5"/>
<line x1="288.4" y1="110.0" x2="288.4" y2="111.0" stroke="#555" stroke-width="0.5"/>
<line x1="291.1" y1="110.0" x2="291.1" y2="111.0" stroke="#555" stroke-width="0.5"/>
<line x1="293.5" y1="110.0" x2="293.5" y2="111.0" stroke="#555" stroke-width="0.5"/>
<line x1="295.6" y1="110.0" x2="295.6" y2="111.0" stroke="#555" stroke-width="0.5"/>
<text x="256.5" y="116.4" font-size="4" font-weight="bold" text-anchor="middle" fill="#222">10<tspan font-size="2.8" dy="-1.5">1</tspan></text>
<line x1="297.5" y1="110.0" x2="297.5" y2="111.8" stroke="#333" stroke-width="0.8"/>
<line x1="309.8" y1="110.0" x2="309.8" y2="111.0" stroke="#555" stroke-width="0.5"/>
<line x1="317.1" y1="110.0" x2="317.1" y2="111.0" stroke="#555" stroke-width="0.5"/>
<line x1="322.2" y1="110.0" x2="322.2" y2="111.0" stroke="#555" stroke-width="0.5"/>
<line x1="326.2" y1="110.0" x2="326.2" y2="111.0" stroke="#555" stroke-width="0.5"/>
<line x1="329.4" y1="110.0" x2="329.4" y2="111.0" stroke="#555" stroke-width="0.5"/>
<line x1="332.1" y1="110.0" x2="332.1" y2="111.0" stroke="#555" stroke-width="0.5"/>
<line x1="334.5" y1="110.0" x2="334.5" y2="111.0" stroke="#555" stroke-width="0.5"/>
<line x1="336.6" y1="110.0" x2="336.6" y2="111.0" stroke="#555" stroke-width="0.5"/>
<text x="297.5" y="116.4" font-size="4" font-weight="bold" text-anchor="middle" fill="#222">10<tspan font-size="2.8" dy="-1.5">2</tspan></text>
<line x1="338.5" y1="110.0" x2="338.5" y2="111.8" stroke="#333" stroke-width="0.8"/>
<line x1="350.8" y1="110.0" x2="350.8" y2="111.0" stroke="#555" stroke-width="0.5"/>
<line x1="358.1" y1="110.0" x2="358.1" y2="111.0" stroke="#555" stroke-width="0.5"/>
<line x1="363.2" y1="110.0" x2="363.2" y2="111.0" stroke="#555" stroke-width="0.5"/>
<line x1="367.2" y1="110.0" x2="367.2" y2="111.0" stroke="#555" stroke-width="0.5"/>
<line x1="370.4" y1="110.0" x2="370.4" y2="111.0" stroke="#555" stroke-width="0.5"/>
<line x1="373.1" y1="110.0" x2="373.1" y2="111.0" stroke="#555" stroke-width="0.5"/>
<line x1="375.5" y1="110.0" x2="375.5" y2="111.0" stroke="#555" stroke-width="0.5"/>
<line x1="377.6" y1="110.0" x2="377.6" y2="111.0" stroke="#555" stroke-width="0.5"/>
<text x="338.5" y="116.4" font-size="4" font-weight="bold" text-anchor="middle" fill="#222">10<tspan font-size="2.8" dy="-1.5">3</tspan></text>
<line x1="379.5" y1="110.0" x2="379.5" y2="111.8" stroke="#333" stroke-width="0.8"/>
<text x="379.5" y="116.4" font-size="4" font-weight="bold" text-anchor="middle" fill="#222">10<tspan font-size="2.8" dy="-1.5">4</tspan></text>
<text x="297.5" y="119.9" font-size="4" font-weight="bold" text-anchor="middle" fill="#222">FL1-Height</text>
<text x="0" y="0" transform="translate(207.2 66.7) rotate(-90)" font-size="3.8" font-weight="bold" text-anchor="middle" fill="#222">Counts</text>
<path d="M221.5 93.8 L222.2 86.2 L223.0 74.5 L223.8 80.7 L224.7 73.6 L225.5 70.0 L226.2 68.1 L227.0 75.4 L228.0 70.6 L229.0 71.5 L230.0 61.9 L231.0 60.3 L232.0 53.1 L233.0 54.5 L234.0 39.5 L235.0 68.6 L236.0 58.0 L237.0 56.7 L237.8 62.1 L238.5 54.2 L239.2 58.5 L240.0 62.2 L240.8 48.3 L241.5 70.7 L242.2 61.8 L243.0 66.0 L243.8 58.1 L244.5 62.9 L245.2 78.7 L246.0 68.1 L246.8 71.1 L247.5 78.2 L248.2 85.2 L249.0 68.0 L249.8 89.7 L250.5 86.3 L251.2 91.5 L252.0 85.9 L252.8 93.5 L253.6 100.4 L254.4 96.3 L255.2 96.9 L256.0 99.8 L256.8 101.1 L257.5 105.7 L258.2 105.6 L259.0 105.7 L259.8 108.3 L260.5 106.0 L261.2 106.3 L262.0 109.3 L262.7 107.9 L263.4 109.3 L264.1 108.4 L264.8 108.3 L265.5 109.0 L266.1 107.7 L266.8 107.7 L267.5 108.3 L268.2 108.1 L268.9 109.2 L269.6 109.3 L270.3 107.4 L271.0 107.7 L271.7 109.3 L272.4 109.0 L273.1 109.3 L273.7 107.8 L274.4 109.1 L275.1 108.5 L275.8 106.9 L276.5 109.0 L277.2 107.0 L277.9 109.1 L278.6 108.1 L279.3 108.3 L280.0 109.3 L280.7 109.3 L281.3 108.9 L282.0 108.9 L282.7 107.8 L283.4 109.3 L284.1 109.1 L284.8 107.7 L285.5 106.9 L286.2 108.5 L286.9 108.3 L287.6 109.3 L288.3 107.5 L288.9 107.7 L289.6 108.9 L290.3 108.6 L291.0 109.3 L291.7 109.3 L292.4 107.6 L293.1 106.2 L293.8 108.6 L294.5 107.8 L295.2 108.8 L295.9 105.9 L296.5 108.4 L297.2 108.6 L297.9 108.0 L298.6 109.0 L299.3 108.6 L300.0 108.7 L300.7 109.3 L301.4 109.3 L302.0 109.3 L302.7 108.9 L303.4 108.7 L304.1 109.1 L304.8 108.8 L305.4 107.8 L306.1 108.9 L306.8 109.3 L307.5 108.1 L308.2 107.5 L308.9 109.1 L309.5 107.8 L310.2 107.1 L310.9 108.3 L311.6 107.1 L312.3 108.9 L312.9 108.1 L313.6 108.6 L314.3 109.3 L315.0 109.3 L315.7 108.5 L316.3 106.4 L317.0 108.1 L317.7 107.5 L318.4 109.3 L319.1 109.3 L319.8 109.2 L320.4 109.2 L321.1 109.1 L321.8 109.2 L322.5 108.2 L323.2 109.3 L323.8 108.3 L324.5 107.5 L325.2 108.6 L325.9 109.3 L326.6 108.4 L327.2 106.9 L327.9 109.3 L328.6 108.8 L329.3 109.1 L330.0 108.2 L330.6 109.0 L331.3 109.3 L332.0 108.0 L332.7 109.2 L333.4 108.9 L334.1 107.8 L334.7 108.8 L335.4 109.2 L336.1 107.8 L336.8 109.3 L337.5 107.6 L338.1 109.3 L338.8 109.2 L339.5 108.9 L340.2 107.9 L340.9 107.9 L341.5 106.6 L342.2 108.6 L342.9 108.5 L343.6 109.1 L344.3 109.3 L344.9 108.8 L345.6 108.3 L346.3 109.3 L347.0 108.6 L347.7 108.6 L348.4 107.6 L349.0 109.3 L349.7 108.0 L350.4 109.3 L351.1 107.9 L351.8 108.2 L352.4 108.7 L353.1 108.0 L353.8 107.4 L354.5 107.6 L355.2 107.9 L355.8 108.5 L356.5 109.3 L357.2 109.3 L357.9 109.0 L358.6 109.3 L359.2 106.8 L359.9 108.1 L360.6 108.2 L361.3 107.8 L362.0 109.1 L362.7 108.1 L363.3 107.7 L364.0 109.3 L364.7 108.1 L365.4 108.5 L366.1 107.4 L366.7 109.3 L367.4 108.7 L368.1 109.3 L368.8 109.3 L369.5 109.3 L370.1 108.4 L370.8 108.0 L371.5 109.3 L372.2 108.5 L372.9 109.2 L373.6 108.9 L374.2 105.9 L374.9 108.8 L375.6 108.8 L376.3 108.9 L377.0 108.6 L377.6 108.9 L378.3 107.9 L379.0 109.2" fill="none" stroke="#777" stroke-width="0.9"/>
<line x1="220.3" y1="22.2" x2="220.3" y2="109.5" stroke="#000" stroke-width="1.1"/>
<path d="M221.0 84.7 L221.8 82.4 L222.5 76.9 L223.5 89.9 L224.5 75.1 L225.3 79.8 L226.2 81.8 L227.0 78.4 L227.8 78.0 L228.5 69.6 L229.2 83.7 L230.0 70.6 L230.8 73.2 L231.6 72.8 L232.4 72.1 L233.2 66.7 L233.9 75.2 L234.7 64.5 L235.4 67.5 L236.2 50.3 L236.9 60.7 L237.7 53.9 L238.5 55.7 L239.3 54.8 L240.2 56.6 L241.0 53.6 L242.0 56.6 L243.0 59.0 L243.7 61.3 L244.4 62.1 L245.1 61.4 L245.8 67.8 L246.5 62.6 L247.2 80.0 L248.0 75.4 L248.8 80.6 L249.5 74.2 L250.2 70.5 L251.0 71.5 L251.8 77.5 L252.6 80.9 L253.4 84.5 L254.2 87.1 L255.0 93.4 L255.7 84.5 L256.4 100.3 L257.2 95.3 L257.9 98.7 L258.6 95.1 L259.3 102.0 L260.1 99.3 L260.8 105.2 L261.6 106.0 L262.3 107.1 L263.0 107.0 L263.8 107.3 L264.5 107.7 L265.3 109.6 L266.0 109.1 L266.7 109.2 L267.4 109.7 L268.0 109.1 L268.7 108.2 L269.4 107.0 L270.1 106.9 L270.8 109.1 L271.4 109.7 L272.1 108.1 L272.8 108.0 L273.5 108.9 L274.2 109.2 L274.8 109.7 L275.5 108.9 L276.2 108.5 L276.9 109.6 L277.6 108.2 L278.3 107.8 L278.9 108.1 L279.6 108.8 L280.3 108.7 L281.0 109.1 L281.7 109.1 L282.3 109.7 L283.0 109.4 L283.7 107.2 L284.4 107.9 L285.1 109.2 L285.7 108.4 L286.4 109.7 L287.1 108.7 L287.8 108.7 L288.5 109.2 L289.1 108.9 L289.8 109.5 L290.5 108.9 L291.2 109.3 L291.9 108.6 L292.5 106.9 L293.2 109.4 L293.9 109.7 L294.6 108.3 L295.3 108.6 L296.0 109.7 L296.6 108.7 L297.3 109.2 L298.0 108.9 L298.7 109.6 L299.4 109.0 L300.0 109.7 L300.7 109.2 L301.4 108.9 L302.1 108.0 L302.8 109.2 L303.4 108.4 L304.1 109.7 L304.8 109.6 L305.5 109.7 L306.2 108.5 L306.8 109.2 L307.5 109.7 L308.2 107.6 L308.9 109.7 L309.6 109.7 L310.2 109.2 L310.9 109.1 L311.6 109.7 L312.3 109.4 L313.0 109.4 L313.7 109.7 L314.3 108.6 L315.0 109.7 L315.7 108.9 L316.4 109.2 L317.1 108.9 L317.7 107.2 L318.4 107.9 L319.1 108.9 L319.8 109.2 L320.5 109.7 L321.1 109.7 L321.8 109.7 L322.5 109.1 L323.2 108.7 L323.9 109.7 L324.5 108.7 L325.2 109.2 L325.9 109.7 L326.6 109.1 L327.3 109.1 L327.9 109.3 L328.6 108.0 L329.3 109.1 L330.0 109.4 L330.7 109.5 L331.3 109.0 L332.0 107.7 L332.7 108.7 L333.4 109.7 L334.1 108.7 L334.8 108.6 L335.4 109.6 L336.1 109.6 L336.8 109.4 L337.5 109.7 L338.2 109.7 L338.8 109.6 L339.5 109.5 L340.2 109.7 L340.9 108.5 L341.6 109.7 L342.2 109.5 L342.9 108.8 L343.6 109.7 L344.3 109.7 L345.0 108.5 L345.6 109.4 L346.3 109.7 L347.0 109.7 L347.7 109.3 L348.4 108.6 L349.0 109.2 L349.7 109.7 L350.4 108.7 L351.1 109.7 L351.8 109.3 L352.5 109.3 L353.1 109.0 L353.8 109.4 L354.5 109.5 L355.2 108.7 L355.9 109.7 L356.5 109.7 L357.2 109.6 L357.9 108.5 L358.6 109.1 L359.3 109.2 L359.9 109.7 L360.6 109.3 L361.3 108.7 L362.0 109.2 L362.7 109.2 L363.3 109.4 L364.0 109.7 L364.7 108.9 L365.4 108.5 L366.1 109.7 L366.7 109.7 L367.4 108.7 L368.1 109.7 L368.8 109.1 L369.5 109.7 L370.2 109.7 L370.8 108.6 L371.5 108.8 L372.2 109.3 L372.9 108.7 L373.6 108.8 L374.2 108.9 L374.9 109.3 L375.6 109.3 L376.3 109.0 L377.0 109.3 L377.6 109.7 L378.3 109.7 L379.0 109.6" fill="none" stroke="#000" stroke-width="1.4"/>
<path d="M222.0 107.7 L222.7 108.1 L223.4 108.7 L224.1 108.0 L224.8 107.7 L225.5 107.4 L226.1 108.8 L226.8 108.2 L227.5 107.9 L228.2 107.7 L228.9 106.7 L229.6 108.4 L230.3 107.7 L231.0 108.3 L231.7 109.2 L232.4 108.0 L233.1 108.2 L233.7 108.9 L234.4 108.1 L235.1 108.3 L235.8 107.5 L236.5 107.6 L237.2 107.1 L237.9 108.9 L238.6 109.1 L239.3 107.9 L240.0 108.1 L240.7 107.9 L241.3 109.3 L242.0 108.9 L242.7 108.1 L243.4 108.7 L244.1 109.1 L244.8 107.5 L245.5 108.6 L246.2 108.6 L246.9 108.2 L247.6 108.7 L248.3 109.0 L248.9 108.2 L249.6 107.9 L250.3 108.8 L251.0 108.3 L251.7 108.4 L252.4 109.3 L253.1 108.4 L253.8 108.1 L254.5 107.1 L255.2 108.4 L255.9 108.3 L256.5 108.5 L257.2 108.5 L257.9 108.6 L258.6 108.2 L259.3 108.2 L260.0 108.5 L260.7 107.5 L261.4 107.2 L262.1 107.2 L262.8 108.0 L263.4 106.5 L264.1 107.5 L264.8 107.6 L265.5 108.0 L266.2 106.9 L266.9 107.7 L267.6 107.7 L268.3 107.2 L269.0 107.7 L269.7 107.4 L270.3 106.6 L271.0 107.2 L271.7 106.7 L272.4 109.1 L273.1 107.2 L273.8 106.8 L274.5 106.1 L275.2 107.3 L275.9 107.6 L276.6 107.3 L277.2 106.0 L277.9 106.2 L278.6 106.1 L279.3 107.3 L280.0 106.3 L280.7 106.9 L281.4 108.6 L282.1 105.1 L282.8 106.6 L283.4 106.7 L284.1 105.2 L284.8 107.7 L285.5 106.3 L286.2 106.9 L286.9 107.1 L287.6 107.9 L288.3 105.7 L289.0 105.7 L289.6 105.0 L290.3 104.9 L291.0 108.1 L291.7 105.6 L292.4 104.2 L293.1 106.7 L293.8 107.8 L294.5 104.7 L295.2 105.7 L295.8 104.1 L296.5 103.3 L297.2 105.3 L297.9 104.0 L298.6 103.9 L299.3 105.2 L300.0 105.6 L300.7 104.8 L301.3 106.5 L302.0 104.1 L302.7 104.4 L303.4 105.8 L304.1 107.4 L304.8 107.1 L305.5 105.6 L306.3 104.5 L307.0 102.4 L307.7 106.0 L308.4 103.8 L309.2 106.9 L309.9 103.8 L310.6 100.9 L311.3 104.9 L312.1 103.5 L312.8 102.4 L313.5 103.3 L314.2 102.6 L314.9 102.6 L315.6 99.0 L316.3 101.3 L317.1 101.5 L317.8 98.4 L318.5 102.1 L319.2 99.2 L319.9 95.5 L320.6 101.4 L321.4 97.1 L322.2 97.2 L323.0 96.0 L323.7 99.4 L324.5 94.9 L325.3 92.7 L326.0 91.1 L326.7 92.2 L327.4 90.7 L328.1 86.1 L328.8 88.4 L329.6 81.0 L330.4 79.9 L331.2 77.7 L332.0 73.2 L332.7 69.3 L333.5 65.6 L334.3 59.8 L335.1 59.1 L335.9 56.4 L336.9 46.3 L337.8 41.2 L338.6 44.2 L339.5 39.1 L340.2 43.4 L341.0 49.1 L341.9 52.1 L342.9 53.2 L343.7 60.1 L344.5 58.8 L345.3 69.9 L346.0 69.9 L346.7 69.0 L347.4 69.3 L348.1 75.2 L348.8 75.7 L349.7 77.1 L350.5 83.5 L351.4 85.4 L352.1 88.6 L352.8 87.5 L353.6 93.7 L354.3 94.6 L355.0 88.7 L355.8 88.7 L356.6 91.9 L357.5 97.7 L358.3 96.8 L359.0 96.4 L359.7 97.4 L360.4 95.3 L361.1 98.5 L361.7 97.1 L362.4 100.0 L363.1 99.7 L363.8 100.1 L364.5 100.8 L365.3 102.8 L366.1 105.0 L366.9 100.0 L367.7 103.8 L368.5 102.5 L369.2 105.6 L369.9 105.4 L370.6 103.4 L371.3 105.0 L372.1 107.0 L372.8 107.6 L373.5 105.6 L374.2 105.7 L374.9 107.4 L375.6 108.7 L376.5 108.5 L377.3 108.3 L378.1 108.7 L379.0 108.9" fill="none" stroke="#2a2a2a" stroke-width="1.35" stroke-dasharray="1.2 1.0"/>
<text x="257.0" y="40.6" style='font-family:"Liberation Serif", serif;font-size:10.70px;font-weight:normal' text-anchor="start" fill="#000" stroke="#000" stroke-width="0.2">FITC</text>
<line x1="251.6" y1="41.2" x2="242.8" y2="46.6" stroke="#000" stroke-width="1.0"/><polygon points="237.7,49.8 241.2,44.1 244.4,49.2" fill="#000"/>
<text x="261.8" y="63.3" style='font-family:"Liberation Serif", serif;font-size:10.70px;font-weight:normal' text-anchor="start" fill="#000" stroke="#000" stroke-width="0.2">Neurogranin</text>
<line x1="261.3" y1="63.3" x2="256.8" y2="65.8" stroke="#000" stroke-width="1.0"/><polygon points="252.0,68.4 255.4,63.1 258.3,68.4" fill="#000"/>
<text x="345.3" y="37.0" style='font-family:"Liberation Serif", serif;font-size:10.50px;font-weight:normal' text-anchor="start" fill="#000" stroke="#000" stroke-width="0.2">IIb/IIIa</text>
<line x1="348.9" y1="40.9" x2="345.8" y2="42.5" stroke="#000" stroke-width="1.0"/><polygon points="340.9,45.0 344.4,39.8 347.2,45.2" fill="#000"/>
<text x="212.2" y="14.2" style='font-family:"Liberation Sans", sans-serif;font-size:17.00px;font-weight:bold' text-anchor="start" fill="#000" >C</text>
<text x="252.5" y="8.9" style='font-family:"Liberation Sans", sans-serif;font-size:10.72px;font-weight:bold' text-anchor="start" fill="#000" stroke="#000" stroke-width="0.25">Non-permeabilized</text>
<rect x="214.5" y="165.5" width="163.0" height="86.0" fill="none" stroke="#444" stroke-width="1"/>
<line x1="213.0" y1="251.5" x2="377.5" y2="251.5" stroke="#222" stroke-width="1.1"/>
<line x1="214.5" y1="165.0" x2="214.5" y2="253.0" stroke="#222" stroke-width="1.1"/>
<line x1="213.2" y1="251.5" x2="214.5" y2="251.5" stroke="#333" stroke-width="0.8"/>
<line x1="213.2" y1="248.1" x2="214.5" y2="248.1" stroke="#333" stroke-width="0.8"/>
<line x1="213.2" y1="244.6" x2="214.5" y2="244.6" stroke="#333" stroke-width="0.8"/>
<line x1="213.2" y1="241.2" x2="214.5" y2="241.2" stroke="#333" stroke-width="0.8"/>
<line x1="213.2" y1="237.7" x2="214.5" y2="237.7" stroke="#333" stroke-width="0.8"/>
<line x1="213.2" y1="234.3" x2="214.5" y2="234.3" stroke="#333" stroke-width="0.8"/>
<line x1="213.2" y1="230.9" x2="214.5" y2="230.9" stroke="#333" stroke-width="0.8"/>
<line x1="213.2" y1="227.4" x2="214.5" y2="227.4" stroke="#333" stroke-width="0.8"/>
<line x1="213.2" y1="224.0" x2="214.5" y2="224.0" stroke="#333" stroke-width="0.8"/>
<line x1="213.2" y1="220.5" x2="214.5" y2="220.5" stroke="#333" stroke-width="0.8"/>
<line x1="213.2" y1="217.1" x2="214.5" y2="217.1" stroke="#333" stroke-width="0.8"/>
<line x1="213.2" y1="213.7" x2="214.5" y2="213.7" stroke="#333" stroke-width="0.8"/>
<line x1="213.2" y1="210.2" x2="214.5" y2="210.2" stroke="#333" stroke-width="0.8"/>
<line x1="213.2" y1="206.8" x2="214.5" y2="206.8" stroke="#333" stroke-width="0.8"/>
<line x1="213.2" y1="203.3" x2="214.5" y2="203.3" stroke="#333" stroke-width="0.8"/>
<line x1="213.2" y1="199.9" x2="214.5" y2="199.9" stroke="#333" stroke-width="0.8"/>
<line x1="213.2" y1="196.5" x2="214.5" y2="196.5" stroke="#333" stroke-width="0.8"/>
<line x1="213.2" y1="193.0" x2="214.5" y2="193.0" stroke="#333" stroke-width="0.8"/>
<line x1="213.2" y1="189.6" x2="214.5" y2="189.6" stroke="#333" stroke-width="0.8"/>
<line x1="213.2" y1="186.1" x2="214.5" y2="186.1" stroke="#333" stroke-width="0.8"/>
<line x1="213.2" y1="182.7" x2="214.5" y2="182.7" stroke="#333" stroke-width="0.8"/>
<line x1="213.2" y1="179.3" x2="214.5" y2="179.3" stroke="#333" stroke-width="0.8"/>
<line x1="213.2" y1="175.8" x2="214.5" y2="175.8" stroke="#333" stroke-width="0.8"/>
<line x1="213.2" y1="172.4" x2="214.5" y2="172.4" stroke="#333" stroke-width="0.8"/>
<line x1="213.2" y1="168.9" x2="214.5" y2="168.9" stroke="#333" stroke-width="0.8"/>
<line x1="213.2" y1="165.5" x2="214.5" y2="165.5" stroke="#333" stroke-width="0.8"/>
<text x="0" y="0" transform="translate(211.1 252.5) rotate(-90)" font-size="3.8" font-weight="bold" text-anchor="middle" fill="#222">0</text>
<text x="0" y="0" transform="translate(211.1 235.3) rotate(-90)" font-size="3.8" font-weight="bold" text-anchor="middle" fill="#222">20</text>
<text x="0" y="0" transform="translate(211.1 218.1) rotate(-90)" font-size="3.8" font-weight="bold" text-anchor="middle" fill="#222">40</text>
<text x="0" y="0" transform="translate(211.1 200.9) rotate(-90)" font-size="3.8" font-weight="bold" text-anchor="middle" fill="#222">60</text>
<text x="0" y="0" transform="translate(211.1 183.7) rotate(-90)" font-size="3.8" font-weight="bold" text-anchor="middle" fill="#222">80</text>
<text x="0" y="0" transform="translate(211.1 166.5) rotate(-90)" font-size="3.8" font-weight="bold" text-anchor="middle" fill="#222">100</text>
<line x1="214.5" y1="251.5" x2="214.5" y2="253.3" stroke="#333" stroke-width="0.8"/>
<line x1="226.8" y1="251.5" x2="226.8" y2="252.5" stroke="#555" stroke-width="0.5"/>
<line x1="233.9" y1="251.5" x2="233.9" y2="252.5" stroke="#555" stroke-width="0.5"/>
<line x1="239.0" y1="251.5" x2="239.0" y2="252.5" stroke="#555" stroke-width="0.5"/>
<line x1="243.0" y1="251.5" x2="243.0" y2="252.5" stroke="#555" stroke-width="0.5"/>
<line x1="246.2" y1="251.5" x2="246.2" y2="252.5" stroke="#555" stroke-width="0.5"/>
<line x1="248.9" y1="251.5" x2="248.9" y2="252.5" stroke="#555" stroke-width="0.5"/>
<line x1="251.3" y1="251.5" x2="251.3" y2="252.5" stroke="#555" stroke-width="0.5"/>
<line x1="253.4" y1="251.5" x2="253.4" y2="252.5" stroke="#555" stroke-width="0.5"/>
<text x="214.5" y="257.9" font-size="4" font-weight="bold" text-anchor="middle" fill="#222">10<tspan font-size="2.8" dy="-1.5">0</tspan></text>
<line x1="255.2" y1="251.5" x2="255.2" y2="253.3" stroke="#333" stroke-width="0.8"/>
<line x1="267.5" y1="251.5" x2="267.5" y2="252.5" stroke="#555" stroke-width="0.5"/>
<line x1="274.7" y1="251.5" x2="274.7" y2="252.5" stroke="#555" stroke-width="0.5"/>
<line x1="279.8" y1="251.5" x2="279.8" y2="252.5" stroke="#555" stroke-width="0.5"/>
<line x1="283.7" y1="251.5" x2="283.7" y2="252.5" stroke="#555" stroke-width="0.5"/>
<line x1="287.0" y1="251.5" x2="287.0" y2="252.5" stroke="#555" stroke-width="0.5"/>
<line x1="289.7" y1="251.5" x2="289.7" y2="252.5" stroke="#555" stroke-width="0.5"/>
<line x1="292.1" y1="251.5" x2="292.1" y2="252.5" stroke="#555" stroke-width="0.5"/>
<line x1="294.1" y1="251.5" x2="294.1" y2="252.5" stroke="#555" stroke-width="0.5"/>
<text x="255.2" y="257.9" font-size="4" font-weight="bold" text-anchor="middle" fill="#222">10<tspan font-size="2.8" dy="-1.5">1</tspan></text>
<line x1="296.0" y1="251.5" x2="296.0" y2="253.3" stroke="#333" stroke-width="0.8"/>
<line x1="308.3" y1="251.5" x2="308.3" y2="252.5" stroke="#555" stroke-width="0.5"/>
<line x1="315.4" y1="251.5" x2="315.4" y2="252.5" stroke="#555" stroke-width="0.5"/>
<line x1="320.5" y1="251.5" x2="320.5" y2="252.5" stroke="#555" stroke-width="0.5"/>
<line x1="324.5" y1="251.5" x2="324.5" y2="252.5" stroke="#555" stroke-width="0.5"/>
<line x1="327.7" y1="251.5" x2="327.7" y2="252.5" stroke="#555" stroke-width="0.5"/>
<line x1="330.4" y1="251.5" x2="330.4" y2="252.5" stroke="#555" stroke-width="0.5"/>
<line x1="332.8" y1="251.5" x2="332.8" y2="252.5" stroke="#555" stroke-width="0.5"/>
<line x1="334.9" y1="251.5" x2="334.9" y2="252.5" stroke="#555" stroke-width="0.5"/>
<text x="296.0" y="257.9" font-size="4" font-weight="bold" text-anchor="middle" fill="#222">10<tspan font-size="2.8" dy="-1.5">2</tspan></text>
<line x1="336.8" y1="251.5" x2="336.8" y2="253.3" stroke="#333" stroke-width="0.8"/>
<line x1="349.0" y1="251.5" x2="349.0" y2="252.5" stroke="#555" stroke-width="0.5"/>
<line x1="356.2" y1="251.5" x2="356.2" y2="252.5" stroke="#555" stroke-width="0.5"/>
<line x1="361.3" y1="251.5" x2="361.3" y2="252.5" stroke="#555" stroke-width="0.5"/>
<line x1="365.2" y1="251.5" x2="365.2" y2="252.5" stroke="#555" stroke-width="0.5"/>
<line x1="368.5" y1="251.5" x2="368.5" y2="252.5" stroke="#555" stroke-width="0.5"/>
<line x1="371.2" y1="251.5" x2="371.2" y2="252.5" stroke="#555" stroke-width="0.5"/>
<line x1="373.6" y1="251.5" x2="373.6" y2="252.5" stroke="#555" stroke-width="0.5"/>
<line x1="375.6" y1="251.5" x2="375.6" y2="252.5" stroke="#555" stroke-width="0.5"/>
<text x="336.8" y="257.9" font-size="4" font-weight="bold" text-anchor="middle" fill="#222">10<tspan font-size="2.8" dy="-1.5">3</tspan></text>
<line x1="377.5" y1="251.5" x2="377.5" y2="253.3" stroke="#333" stroke-width="0.8"/>
<text x="377.5" y="257.9" font-size="4" font-weight="bold" text-anchor="middle" fill="#222">10<tspan font-size="2.8" dy="-1.5">4</tspan></text>
<text x="296.0" y="261.4" font-size="4" font-weight="bold" text-anchor="middle" fill="#222">FL1-Height</text>
<text x="0" y="0" transform="translate(206.2 209.1) rotate(-90)" font-size="3.8" font-weight="bold" text-anchor="middle" fill="#222">Counts</text>
<line x1="219.1" y1="165.5" x2="219.1" y2="251.0" stroke="#777" stroke-width="0.9"/>
<path d="M219.5 234.5 L220.4 233.6 L221.3 234.3 L222.1 235.8 L223.0 223.3 L223.7 224.7 L224.5 223.1 L225.2 224.4 L226.0 224.2 L226.7 219.1 L227.4 224.4 L228.1 217.1 L228.8 224.1 L229.5 217.7 L230.2 221.8 L230.9 221.7 L231.6 218.8 L232.3 216.1 L233.0 214.6 L233.8 212.1 L234.5 222.7 L235.2 217.7 L236.0 222.5 L236.7 215.0 L237.4 214.0 L238.1 208.9 L238.8 209.6 L239.5 202.5 L240.3 213.8 L241.2 213.1 L242.0 214.8 L242.8 214.5 L243.5 202.3 L244.3 194.9 L245.0 210.8 L245.8 208.3 L246.5 202.3 L247.3 203.9 L248.2 213.3 L249.0 219.0 L249.8 213.5 L250.5 209.2 L251.2 217.1 L252.0 219.1 L252.7 210.2 L253.4 220.2 L254.0 214.1 L254.7 219.8 L255.4 223.1 L256.2 223.0 L256.9 218.7 L257.7 227.7 L258.5 222.9 L259.3 232.3 L260.1 225.2 L261.0 231.9 L261.8 233.9 L262.6 234.9 L263.4 239.1 L264.2 240.8 L265.0 246.2 L265.8 243.6 L266.6 245.8 L267.4 241.6 L268.1 247.1 L268.9 247.3 L269.7 248.9 L270.5 249.2 L271.2 245.3 L272.0 244.8 L272.7 246.0 L273.5 246.5 L274.2 250.0 L275.0 244.9 L275.7 248.1 L276.4 249.6 L277.0 247.8 L277.7 245.9 L278.4 246.8 L279.1 249.0 L279.8 249.3 L280.5 247.9 L281.1 248.7 L281.8 250.3 L282.5 247.7 L283.2 251.3 L283.9 246.8 L284.5 251.2 L285.2 246.2 L285.9 250.4 L286.6 248.4 L287.3 246.1 L288.0 248.6 L288.6 249.3 L289.3 249.3 L290.0 248.7 L290.7 248.2 L291.4 248.1 L292.1 248.6 L292.9 250.3 L293.6 249.2 L294.3 249.5 L295.0 248.8 L295.7 250.5 L296.4 251.3 L297.1 251.3 L297.9 246.7 L298.6 247.2 L299.3 247.0 L300.0 248.0" fill="none" stroke="#777" stroke-width="1.0" stroke-dasharray="1.3 0.5"/>
<path d="M299.3 247.0 L300.0 248.0 L300.7 251.3 L301.4 247.8 L302.1 248.4 L302.9 247.9 L303.6 245.2 L304.3 246.2 L305.0 246.9 L305.7 246.6 L306.4 247.3 L307.1 247.0 L307.9 247.3 L308.6 245.0 L309.3 249.2 L310.0 248.3 L310.8 246.0 L311.5 246.2 L312.3 245.2 L313.1 243.0 L313.8 247.6 L314.6 245.2 L315.3 247.7 L316.1 248.2 L316.8 241.7 L317.5 241.5 L318.3 244.7 L319.0 241.7 L319.8 240.6 L320.5 240.4 L321.3 241.8 L322.0 236.2 L322.8 239.4 L323.5 241.5 L324.3 235.9 L325.2 234.2 L326.1 234.6 L327.0 234.4 L327.8 231.7 L328.6 227.1 L329.5 229.0 L330.3 216.6 L331.0 222.1 L331.8 212.6 L332.5 203.4 L333.5 192.3 L334.5 203.7 L335.2 194.0 L336.0 193.3 L336.8 198.3 L337.5 185.7 L338.5 193.2 L339.5 194.2 L340.5 200.6 L341.5 194.9 L342.2 205.7 L343.0 194.8 L343.7 199.8 L344.5 200.7 L345.3 203.3 L346.1 220.1 L347.0 216.5 L347.8 218.1 L348.6 222.2 L349.5 225.1 L350.4 220.3 L351.3 225.9 L352.2 230.5 L353.0 226.1 L353.7 231.1 L354.5 231.9 L355.2 231.3 L356.0 231.7 L356.8 235.5 L357.5 239.3 L358.3 241.5 L359.0 236.3 L359.7 241.1 L360.5 242.6 L361.2 237.1 L361.9 238.5 L362.6 243.6 L363.3 244.3 L364.1 244.3 L364.8 247.1 L365.5 245.3 L366.2 247.2 L367.0 244.7 L367.7 245.2 L368.4 243.8 L369.1 246.3 L369.9 245.9 L370.6 246.0 L371.3 248.6 L372.1 248.6 L372.8 247.9 L373.5 249.1 L374.2 249.6 L374.9 250.0 L375.6 249.1 L376.3 250.8 L377.0 250.1" fill="none" stroke="#444" stroke-width="1.15" stroke-dasharray="1.2 0.6"/>
<path d="M215.0 250.5 L215.7 250.5 L216.4 250.5 L217.1 251.1 L217.8 250.5 L218.4 249.6 L219.1 250.8 L219.8 250.4 L220.5 250.4 L221.2 250.7 L221.9 250.7 L222.6 251.2 L223.3 251.0 L224.0 250.7 L224.7 250.1 L225.3 249.9 L226.0 250.7 L226.7 251.2 L227.4 250.6 L228.1 250.5 L228.8 250.9 L229.5 249.6 L230.2 250.4 L230.9 250.9 L231.6 251.1 L232.2 250.4 L232.9 250.8 L233.6 250.7 L234.3 251.1 L235.0 249.8 L235.7 250.9 L236.4 249.5 L237.1 248.8 L237.8 250.1 L238.4 249.9 L239.1 251.1 L239.8 251.0 L240.5 249.7 L241.2 251.1 L241.9 249.9 L242.6 250.5 L243.3 250.3 L244.0 250.6 L244.7 251.1 L245.3 251.0 L246.0 250.8 L246.7 251.0 L247.4 250.8 L248.1 250.1 L248.8 250.0 L249.5 250.2 L250.2 250.9 L250.9 250.3 L251.6 251.2 L252.2 249.9 L252.9 249.8 L253.6 251.0 L254.3 251.2 L255.0 250.8 L255.7 250.8 L256.4 251.1 L257.2 249.5 L257.9 247.9 L258.6 248.5 L259.5 249.7 L260.3 246.6 L261.1 247.9 L262.0 247.8 L262.8 246.4 L263.5 247.1 L264.2 246.3 L265.0 248.3 L265.8 243.7 L266.6 239.4 L267.4 237.3 L268.1 234.5 L268.9 236.3 L269.7 230.7 L270.5 228.3 L271.4 226.9 L272.2 219.3 L273.0 216.9 L273.8 207.6 L274.5 205.5 L275.2 202.7 L276.0 201.8 L276.8 201.6 L277.5 193.9 L278.5 193.0 L279.5 190.7 L280.2 192.3 L281.0 189.6 L281.8 189.1 L282.5 186.0 L283.2 192.1 L284.0 188.5 L284.8 193.8 L285.5 190.9 L286.2 197.2 L287.0 186.6 L287.8 195.3 L288.5 190.5 L289.4 190.5 L290.4 190.8 L291.2 198.6 L292.0 208.2 L292.8 210.1 L293.6 213.6 L294.4 208.5 L295.2 222.3 L296.0 226.1 L296.8 227.6 L297.6 229.9 L298.4 233.7 L299.2 239.8 L300.0 236.4 L300.7 238.4 L301.4 242.5 L302.1 239.8 L302.8 240.6 L303.6 242.2 L304.3 240.6 L305.0 243.8 L305.7 242.2 L306.4 246.1 L307.1 245.2 L307.8 248.8 L308.5 246.3 L309.2 248.1 L309.9 244.8 L310.6 246.8 L311.3 247.7 L312.0 249.8 L312.7 246.0 L313.4 249.4 L314.2 249.1 L314.9 250.3 L315.6 249.7 L316.4 249.2 L317.1 248.9 L317.8 248.5 L318.5 250.0 L319.3 249.9 L320.0 251.2 L320.7 249.9 L321.4 250.6 L322.1 249.2 L322.7 250.0 L323.4 250.5 L324.1 250.9 L324.8 251.2 L325.5 250.3 L326.2 249.6 L326.9 250.7 L327.6 250.8 L328.2 250.7 L328.9 249.9 L329.6 251.2 L330.3 250.5 L331.0 250.9 L331.7 251.2 L332.4 250.9 L333.0 250.6 L333.7 251.2 L334.4 250.6 L335.1 250.3 L335.8 250.5 L336.5 251.2 L337.2 250.6 L337.9 250.8 L338.5 251.2 L339.2 250.2 L339.9 249.3 L340.6 250.7 L341.3 250.7 L342.0 250.1 L342.7 251.1 L343.3 251.0 L344.0 249.9 L344.7 250.9 L345.4 250.4 L346.1 249.6 L346.8 250.9 L347.5 250.6 L348.2 250.1 L348.8 250.9 L349.5 250.9 L350.2 250.2 L350.9 250.9 L351.6 251.2 L352.3 250.2 L353.0 250.9 L353.7 250.7 L354.3 251.2 L355.0 249.5 L355.7 251.1 L356.4 250.5 L357.1 250.6 L357.8 251.2 L358.5 250.7 L359.1 251.2 L359.8 250.5 L360.5 250.9 L361.2 250.4 L361.9 250.3 L362.6 250.8 L363.3 250.6 L364.0 250.9 L364.6 249.6 L365.3 251.2 L366.0 250.7 L366.7 251.2 L367.4 250.3 L368.1 251.0 L368.8 251.2 L369.4 250.4 L370.1 250.0 L370.8 250.6 L371.5 251.1 L372.2 251.2 L372.9 251.2 L373.6 250.7 L374.3 250.1 L374.9 250.7 L375.6 251.2 L376.3 251.1 L377.0 250.1" fill="none" stroke="#000" stroke-width="1.5"/>
<line x1="280.5" y1="177.0" x2="280.5" y2="196.0" stroke="#000" stroke-width="1.1"/>
<line x1="282.5" y1="175.5" x2="282.5" y2="199.0" stroke="#000" stroke-width="1.1"/>
<line x1="284.5" y1="178.0" x2="284.5" y2="195.0" stroke="#000" stroke-width="1.1"/>
<line x1="286.5" y1="180.0" x2="286.5" y2="199.0" stroke="#000" stroke-width="1.1"/>
<line x1="278.5" y1="186.0" x2="278.5" y2="196.0" stroke="#000" stroke-width="1.1"/>
<text x="238.4" y="192.6" style='font-family:"Liberation Serif", serif;font-size:10.50px;font-weight:normal' text-anchor="start" fill="#000" stroke="#000" stroke-width="0.2">FITC</text>
<line x1="246.4" y1="194.0" x2="246.4" y2="200.4" stroke="#000" stroke-width="1.0"/><polygon points="246.4,206.4 243.4,200.4 249.4,200.4" fill="#000"/>
<text x="294.3" y="179.5" style='font-family:"Liberation Serif", serif;font-size:10.70px;font-weight:normal' text-anchor="start" fill="#000" stroke="#000" stroke-width="0.2">Clusterin</text>
<line x1="302.8" y1="184.3" x2="297.4" y2="189.1" stroke="#000" stroke-width="1.0"/><polygon points="293.3,192.8 295.4,186.9 299.4,191.4" fill="#000"/>
<text x="340.8" y="179.5" style='font-family:"Liberation Serif", serif;font-size:10.50px;font-weight:normal' text-anchor="start" fill="#000" stroke="#000" stroke-width="0.2">IIb/IIIa</text>
<line x1="352.9" y1="184.3" x2="346.5" y2="193.1" stroke="#000" stroke-width="1.0"/><polygon points="343.0,198.0 344.1,191.4 348.9,194.9" fill="#000"/>
<text x="202.0" y="158.0" style='font-family:"Liberation Sans", sans-serif;font-size:17.00px;font-weight:bold' text-anchor="start" fill="#000" >D</text>
<text x="404.2" y="13.8" style='font-family:"Liberation Sans", sans-serif;font-size:17.00px;font-weight:bold' text-anchor="start" fill="#000" >E</text>
<defs><filter id="bl" x="-20%" y="-30%" width="140%" height="160%"><feGaussianBlur stdDeviation="0.7"/></filter><filter id="bl2" x="-50%" y="-50%" width="200%" height="200%"><feGaussianBlur stdDeviation="1.6"/></filter></defs>
<defs><linearGradient id="ge" x1="0" y1="0" x2="1" y2="0"><stop offset="0" stop-color="#a3a3a3"/><stop offset="0.5" stop-color="#aaaaaa"/><stop offset="1" stop-color="#b1b1b1"/></linearGradient></defs>
<rect x="423.9" y="33.9" width="62.1" height="86.1" fill="url(#ge)"/>
<rect x="446" y="64" width="39" height="16" rx="6" fill="#8c8c8c" filter="url(#bl2)" opacity="0.8"/>
<g filter="url(#bl)"><rect x="448.6" y="66.3" width="15" height="11.8" rx="5" ry="4.8" fill="#111"/>
<path d="M466.5 66.3 L479.5 66.3 Q483.2 66.6 483.2 69.6 Q483.2 72.8 479.5 73.1 L466.5 73.2 Q462.6 73 462.6 69.8 Q462.6 66.5 466.5 66.3 Z" fill="#141414"/></g>
<text x="0" y="0" transform="translate(436.9 28.3) rotate(-90)" style='font-family:"Liberation Serif", serif;font-size:8.2px' fill="#000">HepG2</text>
<text x="0" y="0" transform="translate(455.6 28.3) rotate(-90)" style='font-family:"Liberation Serif", serif;font-size:8.2px' fill="#000">Brain</text>
<text x="0" y="0" transform="translate(479.3 28.3) rotate(-90)" style='font-family:"Liberation Serif", serif;font-size:8.2px' fill="#000">Platelets</text>
<text x="499.3" y="33.8" style='font-family:"Liberation Serif", serif;font-size:9.00px;font-weight:normal' text-anchor="start" fill="#000" >kDa</text>
<line x1="499.3" y1="35.1" x2="514.4" y2="35.1" stroke="#000" stroke-width="0.6"/>
<line x1="493" y1="43.8" x2="500" y2="43.8" stroke="#000" stroke-width="1.5"/>
<text x="503.6" y="46.8" style='font-family:"Liberation Serif", serif;font-size:9.00px;font-weight:normal' text-anchor="start" fill="#000" >21.7</text>
<line x1="493" y1="61.6" x2="500" y2="61.6" stroke="#000" stroke-width="1.5"/>
<text x="503.6" y="64.6" style='font-family:"Liberation Serif", serif;font-size:9.00px;font-weight:normal' text-anchor="start" fill="#000" >16.8</text>
<line x1="493" y1="104.8" x2="500" y2="104.8" stroke="#000" stroke-width="1.5"/>
<text x="503.6" y="107.8" style='font-family:"Liberation Serif", serif;font-size:9.00px;font-weight:normal' text-anchor="start" fill="#000" >9.1</text>
<text x="403.9" y="157.2" style='font-family:"Liberation Sans", sans-serif;font-size:17.00px;font-weight:bold' text-anchor="start" fill="#000" >F</text>
<rect x="431.7" y="193.6" width="21.8" height="71" fill="#8a8a8a"/>
<rect x="431.7" y="193.6" width="21.8" height="14" fill="#828282"/>
<rect x="431.7" y="193.6" width="1.6" height="71" fill="#7a7a7a"/>
<rect x="452" y="193.6" width="1.5" height="71" fill="#838383"/>
<rect x="433" y="222" width="11" height="5.5" rx="2.5" fill="#606060" filter="url(#bl2)"/>
<rect x="441.8" y="216" width="12" height="17.5" rx="5.5" ry="6" fill="#4a4a4a" filter="url(#bl2)"/>
<rect x="442.8" y="217.2" width="10.5" height="15.2" rx="4.6" ry="5.5" fill="#0e0e0e" filter="url(#bl)"/>
<text x="0" y="0" transform="translate(441.5 190.0) rotate(-90)" style='font-family:"Liberation Serif", serif;font-size:8.1px' fill="#000">HepG2</text>
<text x="0" y="0" transform="translate(452.1 190.0) rotate(-90)" style='font-family:"Liberation Serif", serif;font-size:8.1px' fill="#000">Platelets</text>
<text x="471.2" y="185.2" style='font-family:"Liberation Serif", serif;font-size:8.60px;font-weight:normal' text-anchor="start" fill="#000" >kDa</text>
<line x1="471.2" y1="186.3" x2="485.7" y2="186.3" stroke="#000" stroke-width="0.6"/>
<line x1="457.6" y1="201.1" x2="464.4" y2="201.1" stroke="#000" stroke-width="1.4"/>
<text x="468.3" y="204.1" style='font-family:"Liberation Serif", serif;font-size:8.10px;font-weight:normal' text-anchor="start" fill="#000" >121.3</text>
<line x1="457.6" y1="215.0" x2="464.4" y2="215.0" stroke="#000" stroke-width="1.4"/>
<text x="468.3" y="218.0" style='font-family:"Liberation Serif", serif;font-size:8.10px;font-weight:normal' text-anchor="start" fill="#000" >85.9</text>
<line x1="457.6" y1="230.8" x2="464.4" y2="230.8" stroke="#000" stroke-width="1.4"/>
<text x="468.3" y="233.8" style='font-family:"Liberation Serif", serif;font-size:8.10px;font-weight:normal' text-anchor="start" fill="#000" >68.8</text>
<line x1="457.6" y1="249.4" x2="464.4" y2="249.4" stroke="#000" stroke-width="1.4"/>
<text x="468.3" y="252.4" style='font-family:"Liberation Serif", serif;font-size:8.10px;font-weight:normal' text-anchor="start" fill="#000" >52.5</text>
</svg>
</body></html>
